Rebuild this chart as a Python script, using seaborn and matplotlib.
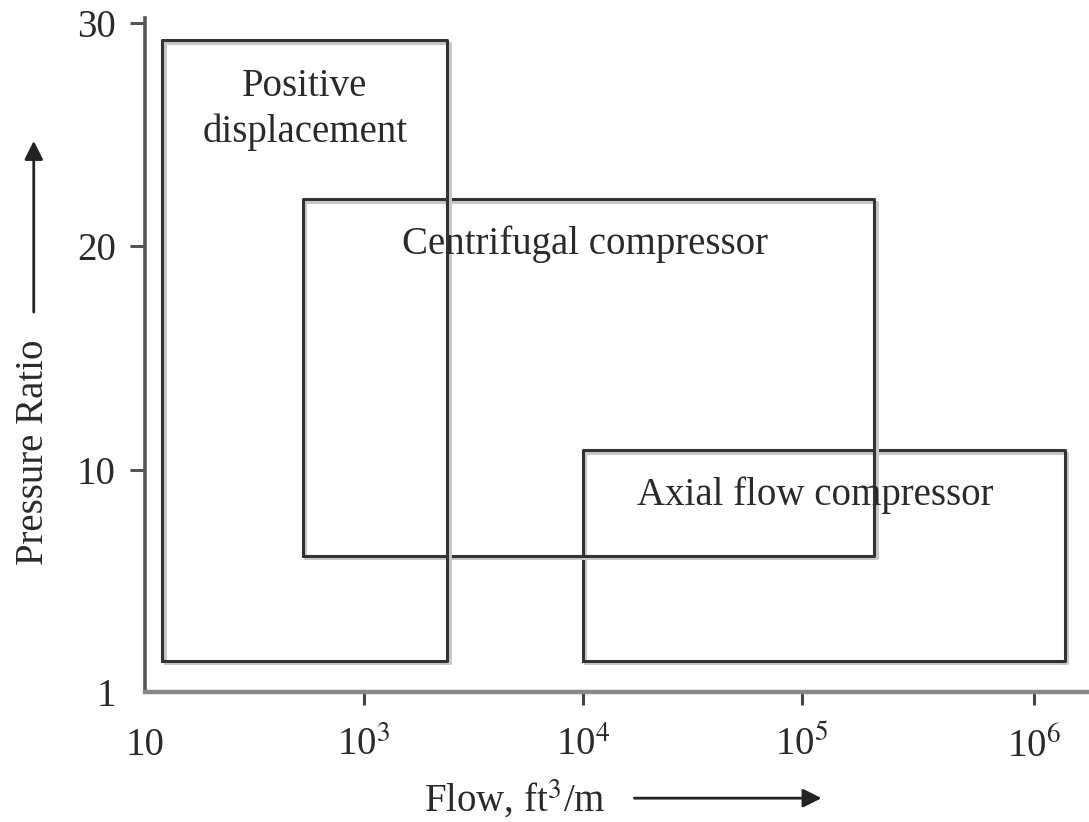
import seaborn as sns
import pandas as pd
import matplotlib.pyplot as plt
import matplotlib.patheffects as pe

# decade slots on the x axis (10, 10^3, 10^4, 10^5, 10^6), pressure ratio on y
regions = ['Positive displacement', 'Centrifugal compressor', 'Axial flow compressor']
x_left = [0.08, 0.72, 2.0]
x_right = [1.38, 3.33, 4.2]
y_bottom = [1.5, 6.2, 1.5]
y_top = [29.2, 22.1, 10.9]
label_text = ['Positive\ndisplacement', 'Centrifugal compressor', 'Axial flow compressor']
label_x = [0.73, 2.01, 3.06]
label_y = [26.1, 20.1, 8.9]

x_ticks = [0, 1, 2, 3, 4.06]
x_ticklabels = ['10', '10$^3$', '10$^4$', '10$^5$', '10$^6$']
y_ticks = [0.1, 10, 20, 30]
y_ticklabels = ['1', '10', '20', '30']

# closed outline for every region
rows = []
for name, x0, x1, y0, y1 in zip(regions, x_left, x_right, y_bottom, y_top):
    for i, (xx, yy) in enumerate([(x0, y0), (x1, y0), (x1, y1), (x0, y1), (x0, y0)]):
        rows.append({'region': name, 'order': i, 'x': xx, 'y': yy})
df = pd.DataFrame(rows)

sns.set_theme(style='ticks')
plt.rcParams['font.family'] = ['Liberation Serif', 'DejaVu Serif']
plt.rcParams['mathtext.fontset'] = 'stix'

fig = plt.figure(figsize=(10.89, 8.22), dpi=100)
ax = fig.add_axes([0.133, 0.158, 0.867, 0.82])

sns.lineplot(data=df, x='x', y='y', units='region', estimator=None, sort=False,
             color='#333333', linewidth=2.2, ax=ax,
             path_effects=[pe.SimpleLineShadow(offset=(1.8, -1.8), shadow_color='#c8c8c8', alpha=1),
                           pe.Normal()])

for t, xx, yy in zip(label_text, label_x, label_y):
    ax.text(xx, yy, t, ha='center', va='center', fontsize=28, color='#2a2a2a', linespacing=1.3)

ax.set_xlim(0, 4.31)
ax.set_ylim(0.1, 30.2)
ax.set_xticks(x_ticks)
ax.set_xticklabels(x_ticklabels)
ax.set_yticks(y_ticks)
ax.set_yticklabels(y_ticklabels)
ax.xaxis.get_major_ticks()[0].tick1line.set_visible(False)
ax.yaxis.get_major_ticks()[0].tick1line.set_visible(False)
ax.tick_params(axis='x', length=9, width=2.2, color='#444444', pad=16, labelsize=28, labelcolor='#2a2a2a')
ax.tick_params(axis='y', length=11, width=2.2, color='#555555', pad=10, labelsize=28, labelcolor='#2a2a2a')
ax.set_xlabel('')
ax.set_ylabel('')

sns.despine(ax=ax)
ax.spines['left'].set_color('#555555')
ax.spines['left'].set_linewidth(2.6)
ax.spines['bottom'].set_color('#888888')
ax.spines['bottom'].set_linewidth(3.2)

# axis titles with arrows
fig.text(0.031, 0.45, 'Pressure Ratio', rotation=90, ha='center', va='center',
         fontsize=28, color='#2a2a2a')
ax.annotate('', xy=(0.031, 0.832), xytext=(0.031, 0.617), xycoords='figure fraction',
            arrowprops=dict(arrowstyle='-|>', color='#222222', lw=2, mutation_scale=28))
fig.text(0.473, 0.027, 'Flow, ft$^3$/m', ha='center', va='center',
         fontsize=28, color='#2a2a2a')
ax.annotate('', xy=(0.757, 0.029), xytext=(0.58, 0.029), xycoords='figure fraction',
            arrowprops=dict(arrowstyle='-|>', color='#222222', lw=2, mutation_scale=28))

fig.savefig('out.png', dpi=100)
